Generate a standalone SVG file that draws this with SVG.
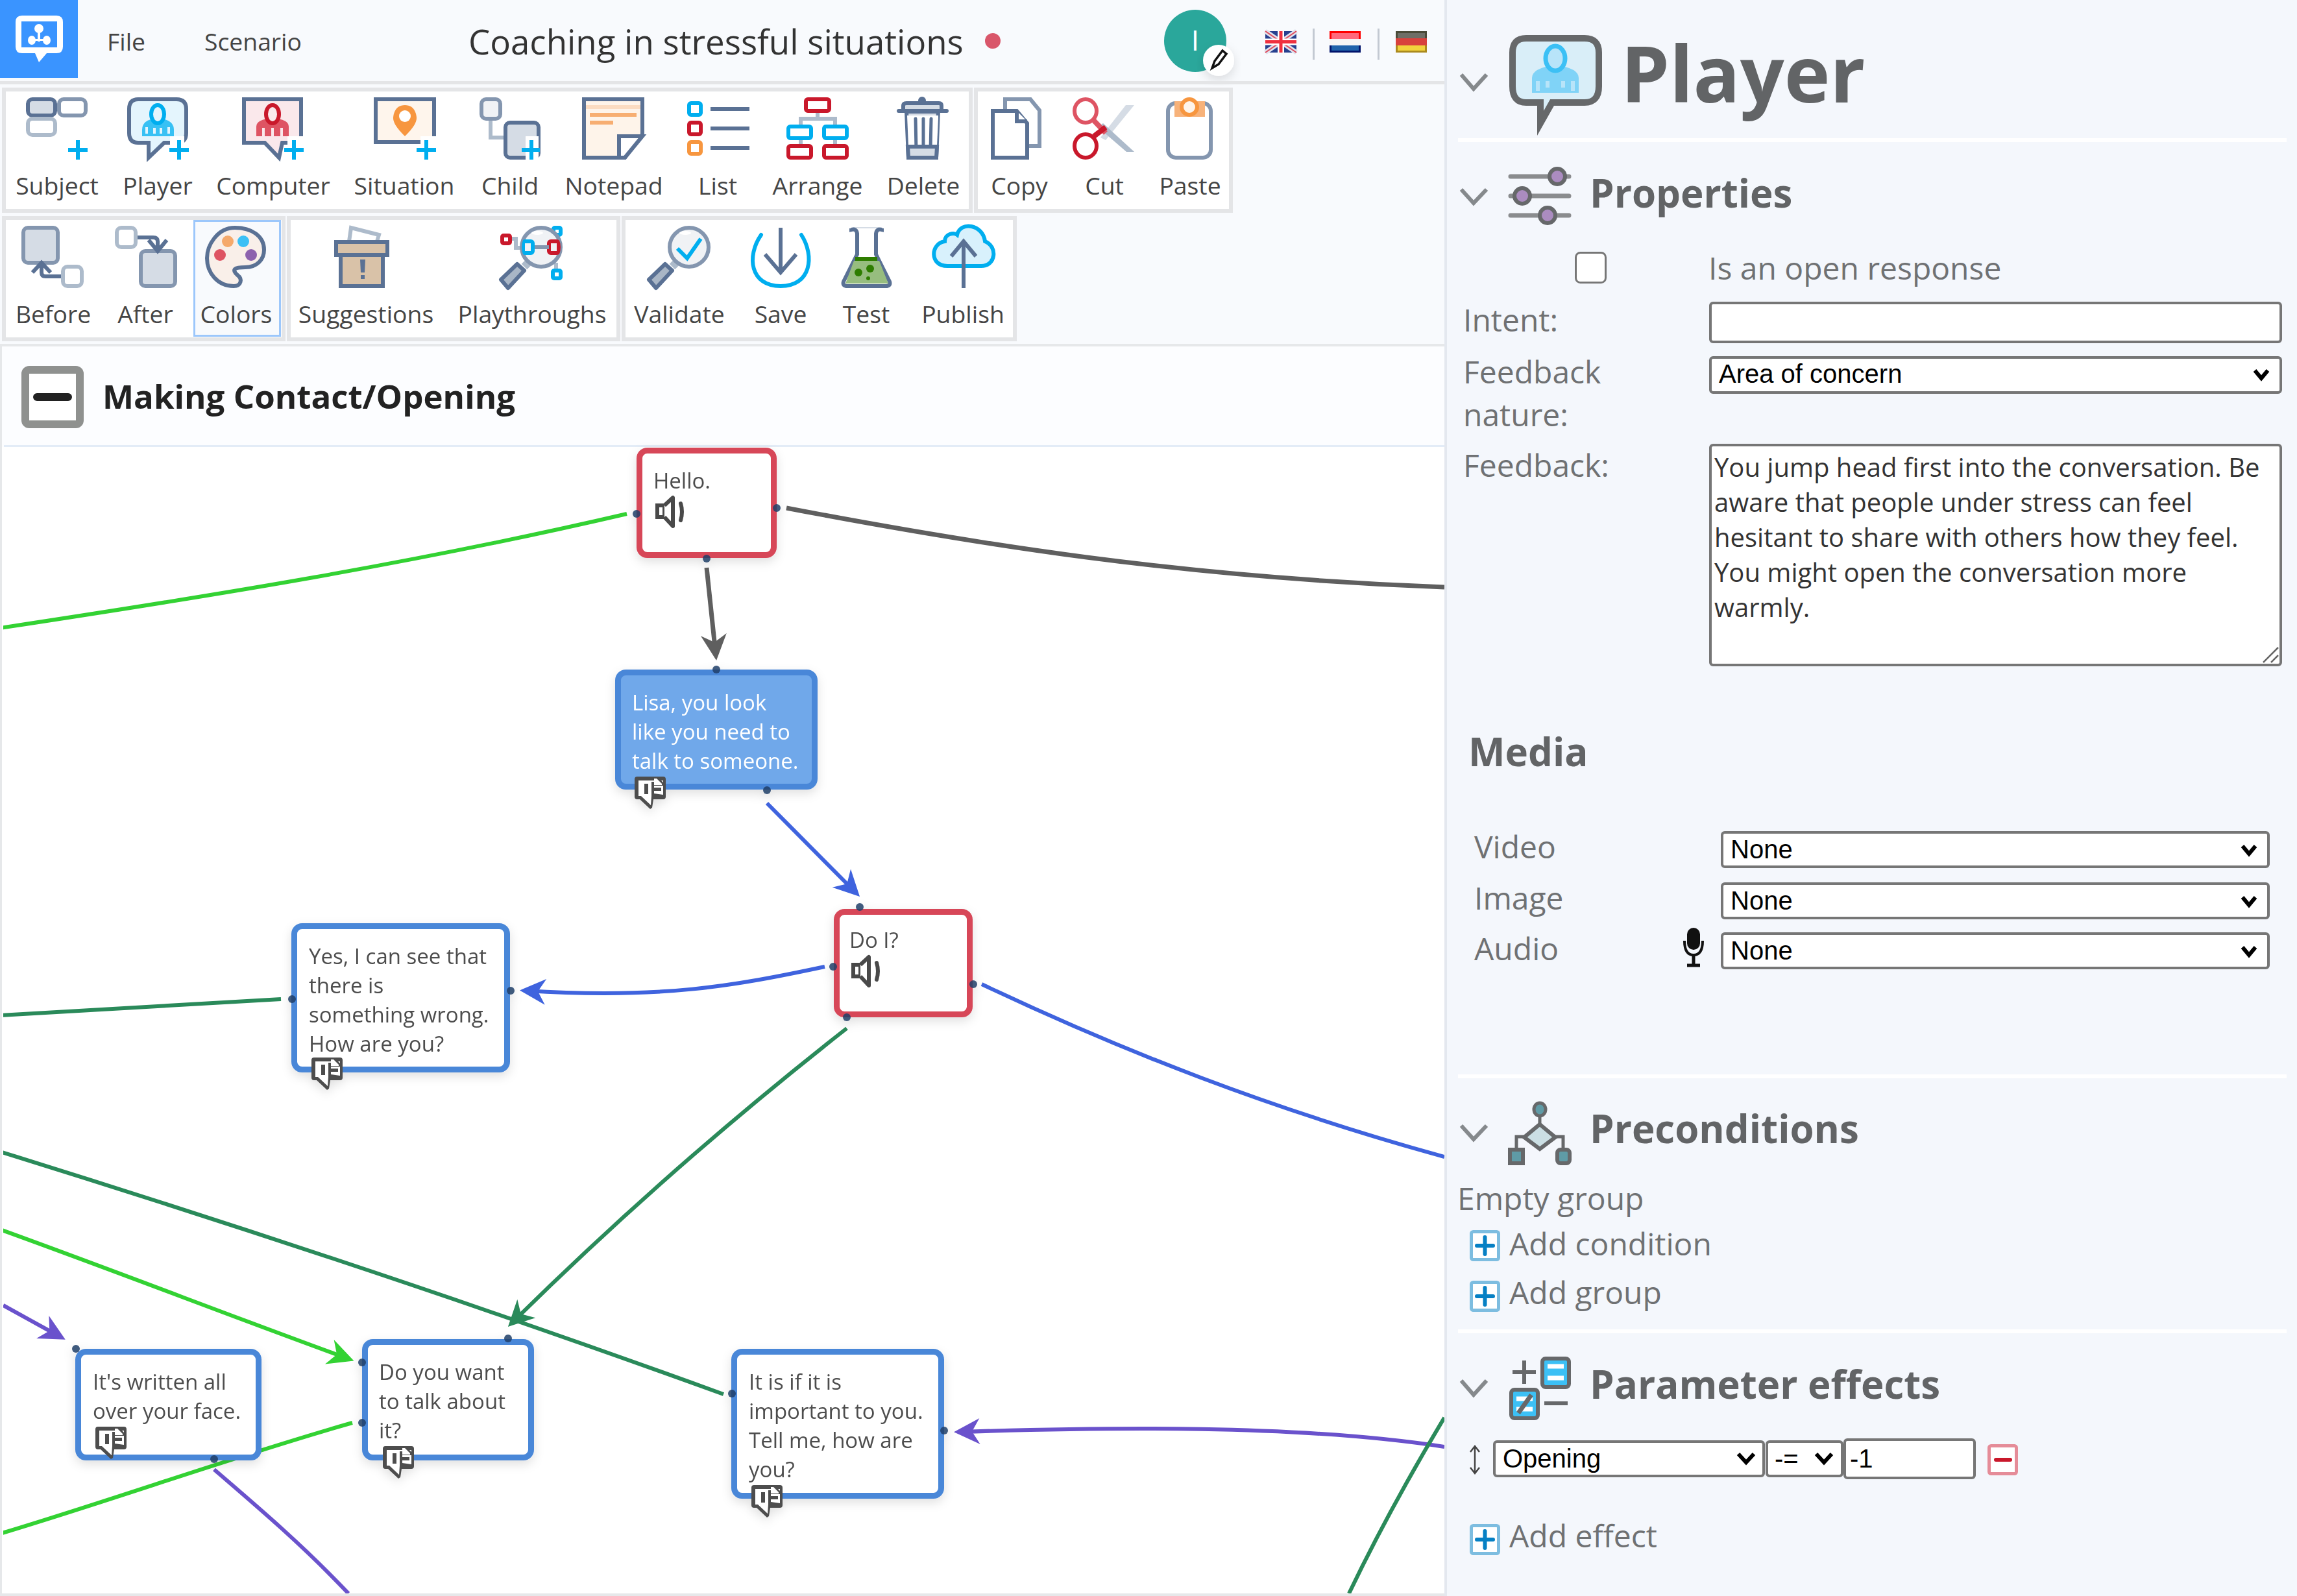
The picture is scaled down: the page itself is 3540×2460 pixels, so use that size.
<svg xmlns="http://www.w3.org/2000/svg" xmlns:xlink="http://www.w3.org/1999/xlink" width="3540" height="2460" viewBox="0 0 3540 2460">
<style>
text{font-family:"Open Sans","Noto Sans","DejaVu Sans",sans-serif}
.tb{font-size:37.300px;fill:#454545;text-anchor:middle}
.menu{font-size:37.300px;fill:#444}
.panel{fill:#fff;stroke:#e4e5e7;stroke-width:6}
.nt{font-size:33px;fill:#4d4d4d}
.nw{font-size:33px;fill:#fff}
.h{font-size:60px;font-weight:700;fill:#626466}
.lb{font-size:48px;fill:#6f7173}
.fa{font-family:"Liberation Sans",Arial,sans-serif;font-size:40px;fill:#000}
.fld{fill:#fff;stroke:#767676;stroke-width:4}
.div{fill:#fff}
.chev{fill:none;stroke:#85898c;stroke-width:6}
.c{fill:none;stroke-width:6}
.dot{fill:#1f3e68;fill-opacity:.85}
.nodeR{fill:#fff;stroke:#d74759;stroke-width:9}
.nodeB{fill:#fff;stroke:#4a87d8;stroke-width:9}
.s1{stroke:#5a7194;stroke-width:6}
.s2{stroke:#8496af;stroke-width:6}
.s3{stroke:#adbbcb;stroke-width:6}
.cy{stroke:#00aeef;stroke-width:6}
.rd{stroke:#c9182b;stroke-width:6}
.or{stroke:#f7963f;stroke-width:6}
.n{fill:none}
.w{fill:#fff}
.plus{stroke:#00aeef;stroke-width:6;fill:none}
.sl{fill:none;stroke:#000;stroke-width:6}
</style>
<defs>
<clipPath id="cv"><rect x="5" y="689" width="2221" height="1767"/></clipPath>
<clipPath id="gl1"><circle cx="834" cy="381" r="30"/></clipPath>
<filter id="sh" x="-20%" y="-20%" width="140%" height="150%"><feDropShadow dx="0" dy="6" stdDeviation="8" flood-color="#000" flood-opacity=".12"/></filter>
<marker id="aG" markerUnits="userSpaceOnUse" orient="auto" overflow="visible" markerWidth="50" markerHeight="50"><path d="M10,0L-30,-20L-18,0L-30,20Z" fill="#5f5f5f"/></marker>
<marker id="aB" markerUnits="userSpaceOnUse" orient="auto" overflow="visible" markerWidth="50" markerHeight="50"><path d="M10,0L-30,-20L-18,0L-30,20Z" fill="#3f63de"/></marker>
<marker id="aL" markerUnits="userSpaceOnUse" orient="auto" overflow="visible" markerWidth="50" markerHeight="50"><path d="M10,0L-30,-20L-18,0L-30,20Z" fill="#33d233"/></marker>
<marker id="aD" markerUnits="userSpaceOnUse" orient="auto" overflow="visible" markerWidth="50" markerHeight="50"><path d="M10,0L-30,-20L-18,0L-30,20Z" fill="#2a8a5a"/></marker>
<marker id="aP" markerUnits="userSpaceOnUse" orient="auto" overflow="visible" markerWidth="50" markerHeight="50"><path d="M10,0L-30,-20L-18,0L-30,20Z" fill="#6a52cc"/></marker>
<g id="spk"><path d="M2,14h11v18h-11z" fill="#fff" stroke="#4a4a4a" stroke-width="6"/><path d="M13,14L26,2V46L13,32" fill="#fff" stroke="#4a4a4a" stroke-width="6" stroke-linejoin="round"/><path d="M38,11Q42,24 38,37" fill="none" stroke="#4a4a4a" stroke-width="6" stroke-linecap="round"/></g>
<g id="fb"><path d="M4,0H44Q48,0 48,4V31Q48,35 44,35H29L27,48L24,50L8,35H4Q0,35 0,31V4Q0,0 4,0Z" fill="#4e4e4e"/><path d="M10,30L25,44L26,30H44V6H6V30Z" fill="#fff"/><rect x="15" y="11" width="6" height="16" fill="#4e4e4e"/><path d="M26,8H31V1H36L44,9V14H26Z" fill="#4e4e4e"/><path d="M30,9V3H34L42,11V13H30Z" fill="#fff"/><path d="M26,14H30V26L44,28V31H26Z" fill="#4e4e4e"/><rect x="30" y="17" width="11" height="5" fill="#4e4e4e"/><path d="M44,6H48V14H44Z" fill="#4e4e4e"/></g>
<g id="addp"><rect x="2.500" y="2.500" width="42" height="43" rx="3" fill="#fff" stroke="#7dbde0" stroke-width="5"/><path d="M23.500,11v26M11,24h25" stroke="#0680c4" stroke-width="6" stroke-linecap="round"/></g>
</defs>

<rect width="3540" height="2460" fill="#f8fafd"/>

<g id="canvas">
<rect x="0" y="532" width="2230" height="1926" fill="#fff"/>
<rect x="0" y="532" width="2226" height="157" fill="#fcfdff"/>
<rect x="6" y="686" width="2220" height="3" fill="#e3ecf7"/>
<rect x="0" y="530" width="2226" height="4" fill="#e6e8ea"/>
<rect x="0" y="532" width="3" height="1926" fill="#e6e8ea"/>
<rect x="0" y="2456" width="2230" height="4" fill="#e6e8ea"/>
</g>

<g id="section-header">
<rect x="39" y="570" width="84" height="84" rx="6" fill="#fff" stroke="#8f918f" stroke-width="12"/>
<rect x="51" y="606" width="60" height="12" rx="6" fill="#222"/>
<text x="158" y="630" font-size="51" font-weight="700" fill="#222">Making Contact/Opening</text>
</g>

<g id="connectors" clip-path="url(#cv)">
<path class="c" stroke="#33d233" d="M0,968C330,918 640,868 966,792"/>
<path class="c" stroke="#5f5f5f" stroke-width="7" style="stroke-width:7" d="M1212,783C1500,838 1820,890 2226,905"/>
<path class="c" stroke="#5f5f5f" style="stroke-width:7" marker-end="url(#aG)" d="M1089,875L1103,1008"/>
<path class="c" stroke="#3f63de" marker-end="url(#aB)" d="M1182,1238L1318,1375"/>
<path class="c" stroke="#3f63de" marker-end="url(#aB)" d="M1271,1490C1130,1520 1020,1540 811,1527"/>
<path class="c" stroke="#3f63de" d="M1513,1517C1730,1620 1960,1710 2226,1783"/>
<path class="c" stroke="#2a8a5a" d="M433,1540L0,1565"/>
<path class="c" stroke="#2a8a5a" marker-end="url(#aD)" d="M1305,1585C1120,1730 950,1880 790,2038"/>
<path class="c" stroke="#2a8a5a" d="M0,1775C370,1890 760,2020 1115,2149"/>
<path class="c" stroke="#33d233" marker-end="url(#aL)" d="M0,1895C180,1960 360,2030 536,2094"/>
<path class="c" stroke="#33d233" d="M0,2364C180,2310 360,2245 543,2193"/>
<path class="c" stroke="#6a52cc" marker-end="url(#aP)" d="M5,2012L92,2060"/>
<path class="c" stroke="#6a52cc" d="M330,2265C400,2325 470,2385 537,2456"/>
<path class="c" stroke="#6a52cc" marker-end="url(#aP)" d="M2226,2230C2000,2195 1700,2200 1480,2207"/>
<path class="c" stroke="#2a8a5a" d="M2226,2185C2175,2270 2125,2360 2079,2456"/>
</g>

<g id="node-hello" filter="url(#sh)">
<rect class="nodeR" x="985.500" y="694.500" width="207" height="161" rx="12"/>
<text class="nt" x="1007" y="753">Hello.</text>
<use xlink:href="#spk" href="#spk" x="1011" y="765"/>
<circle class="dot" cx="981" cy="792" r="6"/><circle class="dot" cx="1197" cy="783" r="6"/><circle class="dot" cx="1089" cy="861" r="6"/>
</g>
<g id="node-lisa" filter="url(#sh)">
<rect x="952.500" y="1036.500" width="303" height="176" rx="12" fill="#6fa8ea" stroke="#4a87d8" stroke-width="9"/>
<text class="nw" x="974" y="1095">Lisa, you look</text><text class="nw" x="974" y="1140">like you need to</text><text class="nw" x="974" y="1185">talk to someone.</text>
<use xlink:href="#fb" href="#fb" x="978" y="1197"/>
<circle class="dot" cx="1104" cy="1032" r="6"/><circle class="dot" cx="1182" cy="1218" r="6"/>
</g>
<g id="node-doi" filter="url(#sh)">
<rect class="nodeR" x="1289.500" y="1405.500" width="205" height="158" rx="12"/>
<text class="nt" x="1309" y="1461">Do I?</text>
<use xlink:href="#spk" href="#spk" x="1313" y="1473"/>
<circle class="dot" cx="1325" cy="1398" r="6"/><circle class="dot" cx="1284" cy="1490" r="6"/><circle class="dot" cx="1500" cy="1517" r="6"/><circle class="dot" cx="1305" cy="1568" r="6"/>
</g>
<g id="node-yes" filter="url(#sh)">
<rect class="nodeB" x="453.500" y="1427.500" width="328" height="221" rx="12"/>
<text class="nt" x="476" y="1486">Yes, I can see that</text><text class="nt" x="476" y="1531">there is</text><text class="nt" x="476" y="1576">something wrong.</text><text class="nt" x="476" y="1621">How are you?</text>
<use xlink:href="#fb" href="#fb" x="480" y="1630"/>
<circle class="dot" cx="450" cy="1540" r="6"/><circle class="dot" cx="787" cy="1527" r="6"/>
</g>
<g id="node-written" filter="url(#sh)">
<rect class="nodeB" x="120.500" y="2083.500" width="278" height="163" rx="12"/>
<text class="nt" x="143" y="2142">It's written all</text><text class="nt" x="143" y="2187">over your face.</text>
<use xlink:href="#fb" href="#fb" x="147" y="2199"/>
<circle class="dot" cx="117" cy="2079" r="6"/><circle class="dot" cx="330" cy="2249" r="6"/>
</g>
<g id="node-doyou" filter="url(#sh)">
<rect class="nodeB" x="562.500" y="2068.500" width="256" height="178" rx="12"/>
<text class="nt" x="584" y="2127">Do you want</text><text class="nt" x="584" y="2172">to talk about</text><text class="nt" x="584" y="2217">it?</text>
<use xlink:href="#fb" href="#fb" x="590" y="2229"/>
<circle class="dot" cx="783" cy="2063" r="6"/><circle class="dot" cx="558" cy="2100" r="6"/><circle class="dot" cx="558" cy="2193" r="6"/>
</g>
<g id="node-itis" filter="url(#sh)">
<rect class="nodeB" x="1131.500" y="2083.500" width="319" height="222" rx="12"/>
<text class="nt" x="1154" y="2142">It is if it is</text><text class="nt" x="1154" y="2187">important to you.</text><text class="nt" x="1154" y="2232">Tell me, how are</text><text class="nt" x="1154" y="2277">you?</text>
<use xlink:href="#fb" href="#fb" x="1158" y="2289"/>
<circle class="dot" cx="1128" cy="2148" r="6"/><circle class="dot" cx="1455" cy="2205" r="6"/>
</g>

<g id="topbar">
<rect x="0" y="0" width="120" height="120" fill="#3a94ff"/>
<path d="M34,24H87Q97,24 97,34V72Q97,82 87,82H72L60,96L54,82H34Q24,82 24,72V34Q24,24 34,24Z" fill="#fff"/>
<rect x="33" y="33" width="55" height="40" fill="#3a94ff"/>
<g fill="#fff"><ellipse cx="60" cy="44" rx="7" ry="7"/><ellipse cx="49" cy="62" rx="6" ry="7"/><ellipse cx="72" cy="62" rx="6" ry="7"/><rect x="58" y="50" width="4" height="14"/><rect x="49" y="60" width="22" height="3"/></g>
<text class="menu" x="165" y="78">File</text>
<text class="menu" x="315" y="78">Scenario</text>
<text x="722" y="84" font-size="52.800" fill="#333">Coaching in stressful situations</text>
<circle cx="1530" cy="63" r="12" fill="#d9566a"/>
<circle cx="1842" cy="63" r="48" fill="#2aa79b"/>
<text x="1842" y="78" font-size="44" fill="#fff" text-anchor="middle">I</text>
<circle cx="1878" cy="93" r="24" fill="#fff" filter="url(#sh)"/>
<path d="M1868,105L1872,94L1884,78L1890,83L1878,99Z" fill="#fff" stroke="#111" stroke-width="3.500"/>
<g id="flag-uk"><rect x="1950" y="48" width="48" height="33" fill="#27408f"/><path d="M1950,48L1998,81M1998,48L1950,81" stroke="#dfe3ee" stroke-width="7"/><path d="M1950,48L1998,81M1998,48L1950,81" stroke="#e0485a" stroke-width="2"/><path d="M1974,48V81M1950,64.500H1998" stroke="#fff" stroke-width="10"/><path d="M1974,48V81M1950,64.500H1998" stroke="#f0303f" stroke-width="5"/></g>
<rect x="2023" y="44" width="3" height="48" fill="#c3c9d2"/>
<g id="flag-nl"><rect x="2049" y="48" width="48" height="33" fill="#00136b"/><rect x="2049" y="48" width="48" height="12" fill="#f00"/><rect x="2049" y="60" width="48" height="10" fill="#f5f5f5"/><rect x="2052" y="51" width="42" height="9" fill="#ff6a7c"/><rect x="2052" y="70" width="42" height="8" fill="#1f62aa"/></g>
<rect x="2123" y="44" width="3" height="48" fill="#c3c9d2"/>
<g id="flag-de"><rect x="2151" y="48" width="48" height="11" fill="#4a4a38"/><rect x="2151" y="59" width="48" height="11" fill="#d8413c"/><rect x="2151" y="70" width="48" height="11" fill="#ab8a1e"/><rect x="2154" y="51" width="42" height="8" fill="#6e6e66"/><rect x="2154" y="70" width="42" height="8" fill="#f2d23c"/></g>
<rect x="0" y="125" width="2226" height="5" fill="#e4e5e7"/>
</g>

<g id="toolbar">
<rect class="panel" x="6" y="138" width="1490" height="187"/>
<rect class="panel" x="1504" y="138" width="393" height="187"/>
<rect class="panel" x="6" y="336" width="431" height="187"/>
<rect class="panel" x="445" y="336" width="508" height="187"/>
<rect class="panel" x="961" y="336" width="603" height="187"/>
<rect x="299.500" y="340.500" width="132" height="177" fill="#f8fafd" stroke="#9cc7fb" stroke-width="3"/>

<text class="tb" x="88" y="300">Subject</text><text class="tb" x="243" y="300">Player</text><text class="tb" x="421" y="300">Computer</text><text class="tb" x="623" y="300">Situation</text><text class="tb" x="786" y="300">Child</text><text class="tb" x="946" y="300">Notepad</text><text class="tb" x="1106" y="300">List</text><text class="tb" x="1260" y="300">Arrange</text><text class="tb" x="1423" y="300">Delete</text><text class="tb" x="1571" y="300">Copy</text><text class="tb" x="1702" y="300">Cut</text><text class="tb" x="1834" y="300">Paste</text>
<text class="tb" x="82" y="498">Before</text><text class="tb" x="224" y="498">After</text><text class="tb" x="364" y="498">Colors</text><text class="tb" x="564" y="498">Suggestions</text><text class="tb" x="820" y="498">Playthroughs</text><text class="tb" x="1047" y="498">Validate</text><text class="tb" x="1203" y="498">Save</text><text class="tb" x="1335" y="498">Test</text><text class="tb" x="1484" y="498">Publish</text>

<g id="i-subject"><rect x="43" y="153" width="42" height="25" rx="7" fill="#d5dce5" stroke="#5a7194" stroke-width="6"/><rect class="s2 w" x="91" y="153" width="41" height="25" rx="7"/><rect class="s3 w" x="43" y="183" width="42" height="25" rx="7"/><path class="plus" d="M120,216V246M105,231H135"/></g>
<g id="i-player"><path class="s1" fill="#e4f5fd" d="M213,153H272Q287,153 287,168V205Q287,220 272,220H253L229,243L229,220H213Q199,220 199,205V168Q199,153 213,153Z"/><path d="M219,210V200Q219,184 243,182Q268,184 268,200V210Z" fill="#38c1f4"/><path d="M226,206V196M238,206V197M248,206V197M260,206V196" stroke="#e4f5fd" stroke-width="4"/><ellipse class="cy" cx="243" cy="176" rx="10" ry="14" fill="#e4f5fd"/><rect x="262" y="210" width="22" height="40" fill="#fff"/><path class="plus" d="M276,216V246M261,231H291"/></g>
<g id="i-computer"><path class="s1" fill="#fae8eb" d="M376,153H464V220H435L430,243L408,220H376Z" stroke-linejoin="miter"/><path d="M395,210V195Q395,184 420,182Q445,184 445,195V210Z" fill="#de5463"/><path d="M406,210V197M420,210V197M434,210V197" stroke="#fae8eb" stroke-width="4"/><ellipse class="rd" cx="420" cy="176" rx="10" ry="14" fill="#fae8eb"/><rect x="443" y="210" width="24" height="40" fill="#fff"/><path class="plus" d="M453,216V246M438,231H468"/></g>
<g id="i-situation"><rect class="s1" x="579" y="153" width="90" height="66" fill="#fef5ec"/><path d="M624,162C640,162 642,178 642,182C642,192 630,204 624,210C618,204 606,192 606,182C606,178 608,162 624,162Z" fill="#f7963f"/><circle cx="624" cy="179" r="9" fill="#fff"/><rect x="648" y="210" width="24" height="40" fill="#fff"/><path class="plus" d="M657,216V246M642,231H672"/></g>
<g id="i-child"><path class="s3 n" d="M756,186V212H776"/><rect class="s2" x="742" y="153" width="29" height="30" rx="7" fill="#f0f2f5"/><rect class="s1" x="779" y="189" width="51" height="54" rx="7" fill="#d5dce5"/><rect x="810" y="210" width="20" height="38" fill="#fff"/><path class="plus" d="M819,216V246M804,231H832"/></g>
<g id="i-notepad"><path class="s1" fill="#fef4ea" d="M900,153H990V207L963,243H900Z"/><path class="s1" fill="#fff" d="M954,243V210H990L963,243Z"/><rect x="903" y="162" width="84" height="6" fill="#fbdcc2"/><rect x="909" y="174" width="72" height="6" fill="#f7ae72"/><rect x="909" y="186" width="36" height="6" fill="#f7ae72"/></g>
<g id="i-list"><rect class="cy w" x="1062" y="159" width="18" height="18" rx="3"/><rect class="rd w" x="1062" y="189" width="18" height="18" rx="3"/><rect class="or w" x="1062" y="219" width="18" height="18" rx="3"/><path d="M1095,168H1155M1095,198H1155M1095,228H1155" stroke="#5a7194" stroke-width="6"/></g>
<g id="i-arrange"><path class="s3 n" d="M1260,174V183M1234,192V183H1287V192M1234,216V222M1287,216V222" stroke-width="5"/><rect class="rd w" x="1242" y="153" width="36" height="18" rx="3"/><rect class="cy w" x="1215" y="195" width="35" height="18" rx="3"/><rect class="cy w" x="1270" y="195" width="35" height="18" rx="3"/><rect class="rd w" x="1215" y="225" width="35" height="18" rx="3"/><rect class="rd w" x="1270" y="225" width="35" height="18" rx="3"/></g>
<g id="i-delete"><path class="s1" fill="#d5dce5" d="M1397,172L1400,243H1443L1446,172Z"/><path d="M1392,171V163Q1392,159 1397,159H1447Q1451,159 1451,163V171" class="s1" fill="#d5dce5"/><path d="M1385,171H1459" stroke="#5a7194" stroke-width="6" stroke-linecap="round"/><circle cx="1421" cy="155" r="6" fill="#5a7194"/><path d="M1398,178H1446V182L1444,225H1400Z" fill="#fff"/><path d="M1411,183L1412,232M1423,183V232M1435,183L1434,232" stroke="#5a7194" stroke-width="5" stroke-linecap="round"/><path class="s1" fill="#d5dce5" d="M1399,226L1400,243H1443L1444,226Z" stroke-width="5"/></g>
<g id="i-copy"><path class="s2 w" d="M1549,153H1588L1602,170V225H1549Z"/><path class="s1 w" d="M1530,171H1567L1583,190V243H1530Z"/><path class="s1" fill="#fff" d="M1567,171V187H1583" stroke-width="5"/></g>
<g id="i-cut"><path d="M1748,162L1735,162L1696,212L1704,216Z" fill="#d5dce5"/><path d="M1692,196L1700,190L1748,234H1736Z" fill="#adbbcb"/><ellipse cx="1673" cy="171" rx="17" ry="18" fill="none" stroke="#de5463" stroke-width="6"/><ellipse cx="1673" cy="225" rx="17" ry="18" fill="none" stroke="#c9182b" stroke-width="6"/><path d="M1686,186L1704,205" stroke="#de5463" stroke-width="8"/><path d="M1686,210L1704,196" stroke="#c9182b" stroke-width="8"/></g>
<g id="i-paste"><rect class="s2 w" x="1800" y="159" width="66" height="84" rx="12"/><rect x="1810" y="156" width="47" height="24" fill="#f7b27a"/><circle cx="1833" cy="165" r="12" fill="#fef4ea" stroke="#f7963f" stroke-width="6"/></g>

<g id="i-before"><rect class="s2" x="36" y="351" width="53" height="54" rx="7" fill="#d5dce5"/><rect class="s3 w" x="97" y="411" width="29" height="30" rx="7"/><path class="s1 n" d="M94,426H70Q64,426 64,420V408M50,420L64,405L78,420"/></g>
<g id="i-after"><rect class="s3 w" x="180" y="351" width="29" height="30" rx="7"/><rect class="s2" x="217" y="387" width="53" height="54" rx="7" fill="#d5dce5"/><path class="s1 n" d="M212,366H236Q243,366 243,372V384M229,370L243,387L257,370"/></g>
<g id="i-colors"><path fill="#f9efe9" stroke="#5a7194" stroke-width="6" d="M362,351C335,351 319,378 319,398C319,420 335,441 360,441C372,441 374,430 366,424C356,415 362,412 378,412C396,412 407,400 407,385C407,364 388,351 362,351Z"/><circle cx="351" cy="372" r="9" fill="#f5a96b"/><circle cx="375" cy="372" r="9" fill="#3cc0f5"/><circle cx="339" cy="393" r="9" fill="#de5463"/><circle cx="387" cy="393" r="9" fill="#8d62ae"/></g>
<g id="i-suggestions"><path class="s3 n" d="M538,372L541,351L584,362L581,372"/><rect class="s1" x="525" y="393" width="65" height="48" fill="#d9c2a8"/><rect class="s1" x="518" y="373" width="79" height="20" fill="#d9c2a8"/><path d="M555,400H563L562,420H556Z" fill="#5a7194"/><rect x="556" y="424" width="6" height="6" fill="#5a7194"/></g>
<g id="i-playthroughs"><path d="M789,368H795V382H805" class="s3 n"/><rect x="774" y="363" width="12" height="12" rx="2" fill="#fff" stroke="#c9182b" stroke-width="6"/><rect class="cy w" x="853" y="351" width="11" height="11" rx="2"/><path d="M857,405V415" class="s3"/><rect class="cy w" x="852" y="417" width="12" height="12" rx="2"/><path d="M808,411L817,402" stroke="#adbbcb" stroke-width="12"/><path d="M772,431L797,407L808,417L783,444Z" fill="#a9b6c6" stroke="#5a7194" stroke-width="6" stroke-linejoin="round"/><circle cx="834" cy="381" r="30" fill="#f0f2f5" stroke="#8496af" stroke-width="6"/><g clip-path="url(#gl1)"><rect class="cy n" x="806" y="372" width="15" height="18" rx="3"/><rect class="rd n" x="846" y="372" width="15" height="18" rx="3"/><path d="M824,381H846" class="s2 n"/></g><ellipse cx="828" cy="359" rx="9" ry="3" fill="#fff"/></g>
<g id="i-validate"><path d="M1036,411L1045,402" stroke="#adbbcb" stroke-width="12"/><path d="M1000,431L1025,407L1036,417L1011,444Z" fill="#a9b6c6" stroke="#5a7194" stroke-width="6" stroke-linejoin="round"/><circle cx="1062" cy="381" r="30" fill="#f0f2f5" stroke="#8496af" stroke-width="6"/><path d="M1044,383L1059,398L1080,368" fill="none" stroke="#00aeef" stroke-width="6"/><ellipse cx="1056" cy="359" rx="9" ry="3" fill="#fff"/></g>
<g id="i-save"><path d="M1173,362C1150,395 1156,441 1203,441C1250,441 1256,395 1235,362" fill="none" stroke="#00aeef" stroke-width="6" stroke-linecap="round"/><path d="M1203,351V418M1179,392L1203,420L1227,392" fill="none" stroke="#5a7194" stroke-width="6"/></g>
<g id="i-test"><rect x="1314" y="350" width="40" height="6" fill="#d5dce5"/><path d="M1312,352V354Q1320,352 1321,360V392L1300,434Q1298,441 1306,441H1365Q1373,441 1371,434L1350,392V360Q1351,352 1359,354V352" fill="#fff" stroke="#5a7194" stroke-width="6"/><path d="M1316,402H1355L1369,437H1303Z" fill="#97bd7f"/><rect x="1318" y="396" width="34" height="6" fill="#2e7d00"/><ellipse cx="1323" cy="420" rx="6" ry="6" fill="#2e7d00"/><ellipse cx="1341" cy="414" rx="6" ry="6" fill="#2e7d00"/><circle cx="1338" cy="429" r="3" fill="#2e7d00"/></g>
<g id="i-publish"><path d="M1460,410C1432,410 1434,375 1456,372C1456,360 1470,358 1475,362C1480,340 1515,346 1518,372C1538,380 1535,410 1512,410Z" fill="#d8f1fc" stroke="#00aeef" stroke-width="6"/><path d="M1485,444V372M1466,395L1485,372L1504,395" fill="none" stroke="#5a7194" stroke-width="6"/></g>
</g>

<g id="properties-panel">
<rect x="2226" y="0" width="1314" height="2460" fill="#f4f7fc"/>
<rect x="2226" y="0" width="4" height="2460" fill="#e4e8ef"/>
<path class="chev" d="M2252,115L2271,137L2291,115"/>
<path fill="#d9eef8" stroke="#66686a" stroke-width="10" d="M2352,59H2442Q2464,59 2464,81V133Q2464,158 2442,158H2392L2374,190V158H2352Q2331,158 2331,133V81Q2331,59 2352,59Z"/>
<path d="M2361,143V120Q2361,105 2397,100Q2433,105 2433,120V143Z" fill="#80d3f7"/><path d="M2370,125V140M2385,125V135M2409,125V135M2424,125V140" stroke="#b8e4f9" stroke-width="6"/>
<ellipse cx="2397" cy="90" rx="15" ry="19" fill="#b8e4f9" stroke="#3cc0f5" stroke-width="7"/>
<text x="2498" y="158" font-size="119.500" font-weight="700" fill="#626466">Player</text>
<rect class="div" x="2247" y="213" width="1277" height="6"/>

<path class="chev" d="M2252,292L2271,313L2291,292"/>
<g id="i-props"><path d="M2328,272H2418M2328,302H2418M2328,332H2418" stroke="#8a8c8e" stroke-width="7" stroke-linecap="round"/><circle cx="2400" cy="272" r="12" fill="#ab8cc0" stroke="#66686a" stroke-width="6"/><circle cx="2346" cy="302" r="12" fill="#ab8cc0" stroke="#66686a" stroke-width="6"/><circle cx="2385" cy="332" r="12" fill="#ab8cc0" stroke="#66686a" stroke-width="6"/></g>
<text class="h" x="2450" y="320">Properties</text>
<rect x="2428.500" y="389.500" width="46" height="46" rx="7" fill="#fff" stroke="#767676" stroke-width="3"/>
<text class="lb" x="2633" y="431">Is an open response</text>
<text class="lb" x="2255" y="511">Intent:</text>
<rect class="fld" x="2636" y="467" width="879" height="60" rx="4"/>
<text class="lb" x="2255" y="591">Feedback</text><text class="lb" x="2255" y="657">nature:</text>
<rect class="fld" x="2636" y="551" width="879" height="54" rx="4"/>
<text class="fa" x="2649" y="590">Area of concern</text>
<path class="sl" d="M3475,571L3485,583L3495,571"/>
<text class="lb" x="2255" y="735">Feedback:</text>
<rect class="fld" x="2636" y="686" width="879" height="339" rx="4"/>
<g font-size="40" fill="#333">
<text x="2642" y="735">You jump head first into the conversation. Be</text>
<text x="2642" y="789">aware that people under stress can feel</text>
<text x="2642" y="843">hesitant to share with others how they feel.</text>
<text x="2642" y="897">You might open the conversation more</text>
<text x="2642" y="951">warmly.</text>
</g>
<path d="M3488,1021L3511,998M3500,1021L3511,1010" stroke="#666" stroke-width="2.500"/>

<text class="h" x="2263" y="1181">Media</text>
<text class="lb" x="2272" y="1323">Video</text><text class="lb" x="2272" y="1402">Image</text><text class="lb" x="2272" y="1480">Audio</text>
<rect class="fld" x="2654" y="1283" width="842" height="53" rx="4"/><text class="fa" x="2667" y="1323">None</text><path class="sl" d="M3456,1304L3466,1316L3476,1304"/>
<rect class="fld" x="2654" y="1362" width="842" height="53" rx="4"/><text class="fa" x="2667" y="1402">None</text><path class="sl" d="M3456,1383L3466,1395L3476,1383"/>
<rect class="fld" x="2654" y="1439" width="842" height="53" rx="4"/><text class="fa" x="2667" y="1479">None</text><path class="sl" d="M3456,1460L3466,1472L3476,1460"/>
<g id="mic"><rect x="2600" y="1430" width="20" height="34" rx="10" fill="#111"/><path d="M2596,1450Q2596,1472 2610,1472Q2624,1472 2624,1450" fill="none" stroke="#111" stroke-width="4"/><path d="M2610,1472V1488M2600,1488H2620" stroke="#111" stroke-width="5"/></g>

<rect class="div" x="2247" y="1656" width="1277" height="6"/>
<path class="chev" d="M2252,1735L2271,1756L2291,1735"/>
<g id="i-precond"><path d="M2337,1770V1752H2350M2409,1770V1752H2396" fill="none" stroke="#66686a" stroke-width="5"/><path d="M2373,1722V1735" stroke="#66686a" stroke-width="5"/><ellipse cx="2373" cy="1710" rx="9" ry="10" fill="#5f9ba6" stroke="#66686a" stroke-width="5"/><path d="M2373,1733L2397,1753L2373,1771L2349,1753Z" fill="#cbdfe4" stroke="#66686a" stroke-width="6"/><rect x="2327" y="1772" width="20" height="21" fill="#5f9ba6" stroke="#66686a" stroke-width="6"/><rect x="2400" y="1772" width="19" height="21" rx="5" fill="#5f9ba6" stroke="#66686a" stroke-width="6"/></g>
<text class="h" x="2450" y="1762">Preconditions</text>
<text class="lb" x="2246" y="1865">Empty group</text>
<use xlink:href="#addp" href="#addp" x="2265" y="1896"/><text class="lb" x="2326" y="1935">Add condition</text>
<use xlink:href="#addp" href="#addp" x="2265" y="1974"/><text class="lb" x="2326" y="2010">Add group</text>
<rect class="div" x="2247" y="2049" width="1277" height="6"/>
<path class="chev" d="M2252,2128L2271,2150L2291,2128"/>
<g id="i-effects"><path d="M2331,2115H2367M2349,2097V2133" stroke="#66686a" stroke-width="6"/><path d="M2380,2163H2416" stroke="#66686a" stroke-width="6"/><rect x="2377" y="2094" width="41" height="44" rx="5" fill="#3cc0f5" stroke="#66686a" stroke-width="6"/><path d="M2385,2106H2410M2385,2124H2410" stroke="#fff" stroke-width="7"/><rect x="2329" y="2142" width="41" height="44" rx="5" fill="#3cc0f5" stroke="#66686a" stroke-width="6"/><path d="M2337,2156H2362M2337,2172H2362" stroke="#fff" stroke-width="7"/><path d="M2360,2150L2340,2178" stroke="#66686a" stroke-width="7"/></g>
<text class="h" x="2450" y="2156">Parameter effects</text>
<path d="M2273,2230V2270M2266,2238L2273,2229L2280,2238M2266,2262L2273,2271L2280,2262" fill="none" stroke="#444" stroke-width="2.500"/>
<rect class="fld" x="2303" y="2222" width="415" height="53" rx="4"/><text class="fa" x="2316" y="2262">Opening</text><path class="sl" d="M2679,2241L2691,2254L2703,2241"/>
<rect class="fld" x="2723" y="2222" width="116" height="53" rx="4"/><text class="fa" x="2735" y="2262">-=</text><path class="sl" d="M2799,2241L2811,2254L2823,2241"/>
<rect class="fld" x="2843" y="2219" width="200" height="59" rx="4"/><text class="fa" x="2851" y="2262">-1</text>
<rect x="3065.500" y="2228.500" width="42" height="43" rx="3" fill="#fff" stroke="#e58c98" stroke-width="5"/><path d="M3076,2250H3098" stroke="#c9182b" stroke-width="6" stroke-linecap="round"/>
<use xlink:href="#addp" href="#addp" x="2265" y="2349"/><text class="lb" x="2326" y="2385">Add effect</text>
</g>
</svg>
